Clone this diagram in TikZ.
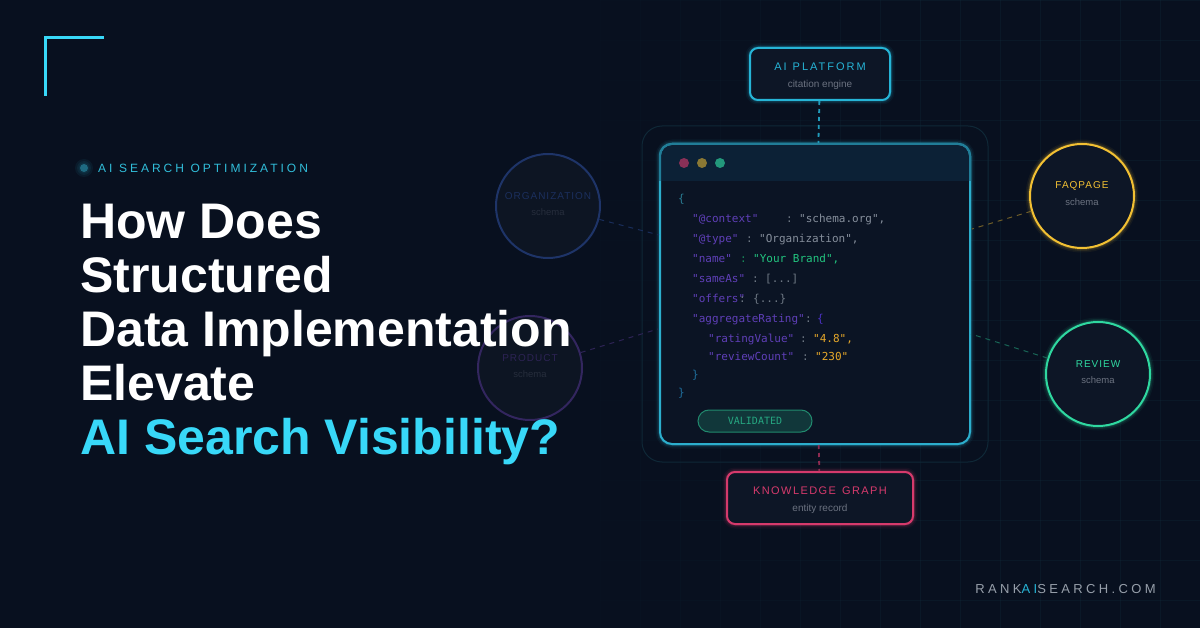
\documentclass[tikz,border=0pt]{standalone}
\usepackage{fontspec}
\usepackage{xcolor}
\setmainfont{Liberation Sans}
\newfontfamily\codefont{DejaVu Sans Mono}
\usetikzlibrary{arrows.meta,shapes,positioning,calc}
\definecolor{nightbg}{HTML}{08101F}
\definecolor{gridline}{HTML}{12303F}
\definecolor{panelfill}{HTML}{0B1424}
\definecolor{headfill}{HTML}{0C2136}
\definecolor{cardfill}{HTML}{0D1626}
\definecolor{skycyan}{HTML}{38D8F8}
\definecolor{wincyan}{HTML}{2CAECD}
\definecolor{platcyan}{HTML}{26B4D6}
\definecolor{kgpink}{HTML}{D63A6C}
\definecolor{faqgold}{HTML}{F2C033}
\definecolor{revgreen}{HTML}{2FD8A0}
\definecolor{orgblue}{HTML}{1E3468}
\definecolor{prodviolet}{HTML}{33265F}
\definecolor{keyviolet}{HTML}{5F3FB8}
\definecolor{valgray}{HTML}{858E9B}
\definecolor{colongray}{HTML}{6E7884}
\definecolor{valgreen}{HTML}{22C47F}
\definecolor{valamber}{HTML}{E8A92A}
\definecolor{bracecyan}{HTML}{2A7D94}
\definecolor{braceblue}{HTML}{1F6E9C}
\definecolor{subgray}{HTML}{6B7280}
\begin{document}
\begin{tikzpicture}[
    x=1pt, y=-1pt,
    glow/.style={draw=#1, preaction={draw=#1, opacity=0.06, line width=9pt}, preaction={draw=#1, opacity=0.10, line width=6pt}, preaction={draw=#1, opacity=0.18, line width=3.5pt}},
    card/.style={rectangle, glow=#1, fill=cardfill, line width=2pt, rounded corners=8pt, inner sep=0pt},
    schemaball/.style={circle, glow=#1, fill=cardfill, line width=2pt, minimum size=104pt, inner sep=0pt},
    dimball/.style={circle, draw=#1, fill=nightbg!98!white, line width=2pt, minimum size=104pt, inner sep=0pt},
    tag/.style={inner sep=0pt, font=\fontsize{11}{13}\selectfont\addfontfeature{LetterSpace=#1}},
    balltag/.style={inner sep=0pt, font=\fontsize{10}{12}\selectfont\addfontfeature{LetterSpace=10}},
    sub/.style={inner sep=0pt, text=subgray, font=\fontsize{10}{12}\selectfont},
    ballsub/.style={inner sep=0pt, text=subgray, font=\fontsize{9.5}{12}\selectfont},
    code/.style={inner sep=0pt, anchor=base west, font=\fontsize{11}{13}\selectfont\codefont},
    key/.style={code, text=keyviolet},
    colon/.style={code, text=colongray},
    val/.style={code, text=valgray},
    windot/.style={circle, minimum size=10pt, inner sep=0pt},
    halo/.style={circle, fill=skycyan, opacity=0.06, minimum size=#1, inner sep=0pt},
    link/.style={dashed, dash pattern=on 4pt off 4pt, line width=#1},
    faint/.style={dashed, dash pattern=on 5pt off 5pt, line width=1pt}
]
    \fill[nightbg] (0,0) rectangle (1200,628);
    \useasboundingbox (0,0) rectangle (1200,628);

    \foreach \gx in {560,600,...,1160} {
        \pgfmathsetmacro{\gop}{min(1,(\gx-540)/420)*0.28}
        \draw[gridline, line width=0.8pt, opacity=\gop] (\gx,0) -- (\gx,628);
        \foreach \gy in {0,40,...,600} {
            \draw[gridline, line width=0.8pt, opacity=\gop] (\gx,\gy) -- (\gx+40,\gy);
        }
    }

    \draw[skycyan, line width=3pt] (104,37.5) -- (45.5,37.5) -- (45.5,96);

    \node[rectangle, draw=gridline!75!nightbg, line width=1pt, rounded corners=20pt, minimum width=346pt, minimum height=336pt, inner sep=0pt] (frame) at (815,294) {};

    \node[rectangle, glow=wincyan, fill=panelfill, line width=2pt, rounded corners=12pt, minimum width=310pt, minimum height=300pt, inner sep=0pt] (window) at (815,294) {};
    \fill[headfill] (661,181) [rounded corners=11pt] -- (661,145) -- (969,145) [sharp corners] -- (969,181) -- cycle;
    \draw[wincyan!65!headfill, line width=2pt] (660,181) [rounded corners=12pt] -- (660,144) -- (970,144) [sharp corners] -- (970,181);
    \node[windot, fill=kgpink!62!headfill] (dotred) at (684,163) {};
    \node[windot, fill=faqgold!55!headfill] (dotamber) at (702,163) {};
    \node[windot, fill=revgreen!65!headfill] (dotgreen) at (720,163) {};

    \node[code, text=bracecyan] (open) at (678,203) {\{};
    \node[key] (kcontext) at (692,223) {"@context"};
    \node[colon] (ccontext) at (786,223) {:};
    \node[val] (vcontext) at (799,223) {"schema.org",};
    \node[key] (ktype) at (692,243) {"@type"};
    \node[colon] (ctype) at (746,243) {:};
    \node[val] (vtype) at (759,243) {"Organization",};
    \node[key] (kname) at (692,263) {"name"};
    \node[colon, text=valgreen!70!black] (cname) at (740,263) {:};
    \node[code, text=valgreen] (vname) at (753,263) {"Your Brand",};
    \node[key] (ksame) at (692,283) {"sameAs"};
    \node[colon] (csame) at (752,283) {:};
    \node[code, text=colongray] (vsame) at (765,283) {[...]};
    \node[key] (koffers) at (692,303) {"offers"};
    \node[colon] (coffers) at (739,303) {:};
    \node[code, text=colongray] (voffers) at (753,303) {\{...\}};
    \node[key] (krating) at (692,323) {"aggregateRating"};
    \node[colon] (crating) at (805,323) {:};
    \node[code, text=keyviolet!80!blue] (vrating) at (817,323) {\{};
    \node[key] (kvalue) at (708,343) {"ratingValue"};
    \node[colon] (cvalue) at (800,343) {:};
    \node[code, text=valamber] (vvalue) at (813,343) {"4.8",};
    \node[key] (kcount) at (708,361) {"reviewCount"};
    \node[colon] (ccount) at (802,361) {:};
    \node[code, text=valamber] (vcount) at (815,361) {"230"};
    \node[code, text=braceblue] (closein) at (692,379) {\}};
    \node[code, text=braceblue] (closeout) at (678,396) {\}};

    \node[rectangle, draw=revgreen!60!panelfill, fill=revgreen!18!panelfill, line width=1pt, rounded corners=11pt, minimum width=114pt, minimum height=22pt, inner sep=0pt, text=revgreen!75!panelfill, font=\fontsize{10}{12}\selectfont\codefont] (validated) at (755,421) {VALIDATED};

    \node[card=platcyan, minimum width=140pt, minimum height=52pt] (platform) at (820,74) {};
    \node[tag=18, text=platcyan] (platformname) at ([yshift=7.5pt]platform.center) {AI\hspace{6pt}PLATFORM};
    \node[sub] (platformsub) at ([yshift=-10.5pt]platform.center) {citation engine};

    \node[card=kgpink, minimum width=186pt, minimum height=52pt] (graph) at (820,498) {};
    \node[tag=13, text=kgpink] (graphname) at ([yshift=7.5pt]graph.center) {KNOWLEDGE\hspace{6pt}GRAPH};
    \node[sub] (graphsub) at ([yshift=-10.5pt]graph.center) {entity record};

    \node[dimball=orgblue] (org) at (548,206) {};
    \node[balltag, text=orgblue!85!nightbg] (orgname) at ([yshift=10pt]org.center) {ORGANIZATION};
    \node[ballsub, text=subgray!30!nightbg] (orgsub) at ([yshift=-6.5pt]org.center) {schema};

    \node[dimball=prodviolet] (product) at (530,368) {};
    \node[balltag, text=prodviolet!85!nightbg] (productname) at ([yshift=10pt]product.center) {PRODUCT};
    \node[ballsub, text=subgray!30!nightbg] (productsub) at ([yshift=-6.5pt]product.center) {schema};

    \node[schemaball=faqgold] (faq) at (1082,196) {};
    \node[balltag, text=faqgold] (faqname) at ([yshift=10pt]faq.center) {FAQPAGE};
    \node[ballsub] (faqsub) at ([yshift=-6.5pt]faq.center) {schema};

    \node[schemaball=revgreen] (review) at (1098,374) {};
    \node[balltag, text=revgreen] (reviewname) at ([yshift=10pt]review.center) {REVIEW};
    \node[ballsub] (reviewsub) at ([yshift=-6.5pt]review.center) {schema};

    \coordinate (orgend) at (659,235);
    \coordinate (productend) at (658,329);
    \coordinate (faqend) at (972,229);
    \coordinate (reviewend) at (971,334);

    \draw[link=1.8pt, platcyan!85!nightbg] (platform) -- (window);
    \draw[link=1.8pt, kgpink!65!nightbg] (window) -- (graph);
    \draw[faint, orgblue!80!nightbg] (org) -- (orgend);
    \draw[faint, prodviolet!85!nightbg] (product) -- (productend);
    \draw[faint, faqgold!45!nightbg] (faq) -- (faqend);
    \draw[faint, revgreen!42!nightbg] (review) -- (reviewend);

    \node[halo=18pt] (halobig) at (84,168) {};
    \node[halo=14pt] (halomid) at (84,168) {};
    \node[halo=11pt] (halosmall) at (84,168) {};
    \node[circle, fill=skycyan!45!nightbg, minimum size=8pt, inner sep=0pt] (dot) at (84,168) {};
    \node[inner sep=0pt, anchor=west, text=skycyan!88!black, font=\fontsize{12}{14}\selectfont\addfontfeature{LetterSpace=25}] (eyebrow) at (98,168) {AI\hspace{6.5pt}SEARCH\hspace{6.5pt}OPTIMIZATION};

    \node[inner sep=0pt, anchor=north west, align=left, text=white, font=\fontsize{50}{54}\selectfont\bfseries] (headline) at (80,204) {How Does\\Structured\\Data Implementation\\Elevate\\\textcolor{skycyan}{AI Search Visibility?}};

    \node[inner sep=0pt, anchor=east, text=valgray!85!white, font=\fontsize{13}{15}\selectfont\addfontfeature{LetterSpace=26}] (domain) at (1156,589) {RANK\textcolor{platcyan}{AI}SEARCH.COM};
\end{tikzpicture}
\end{document}
